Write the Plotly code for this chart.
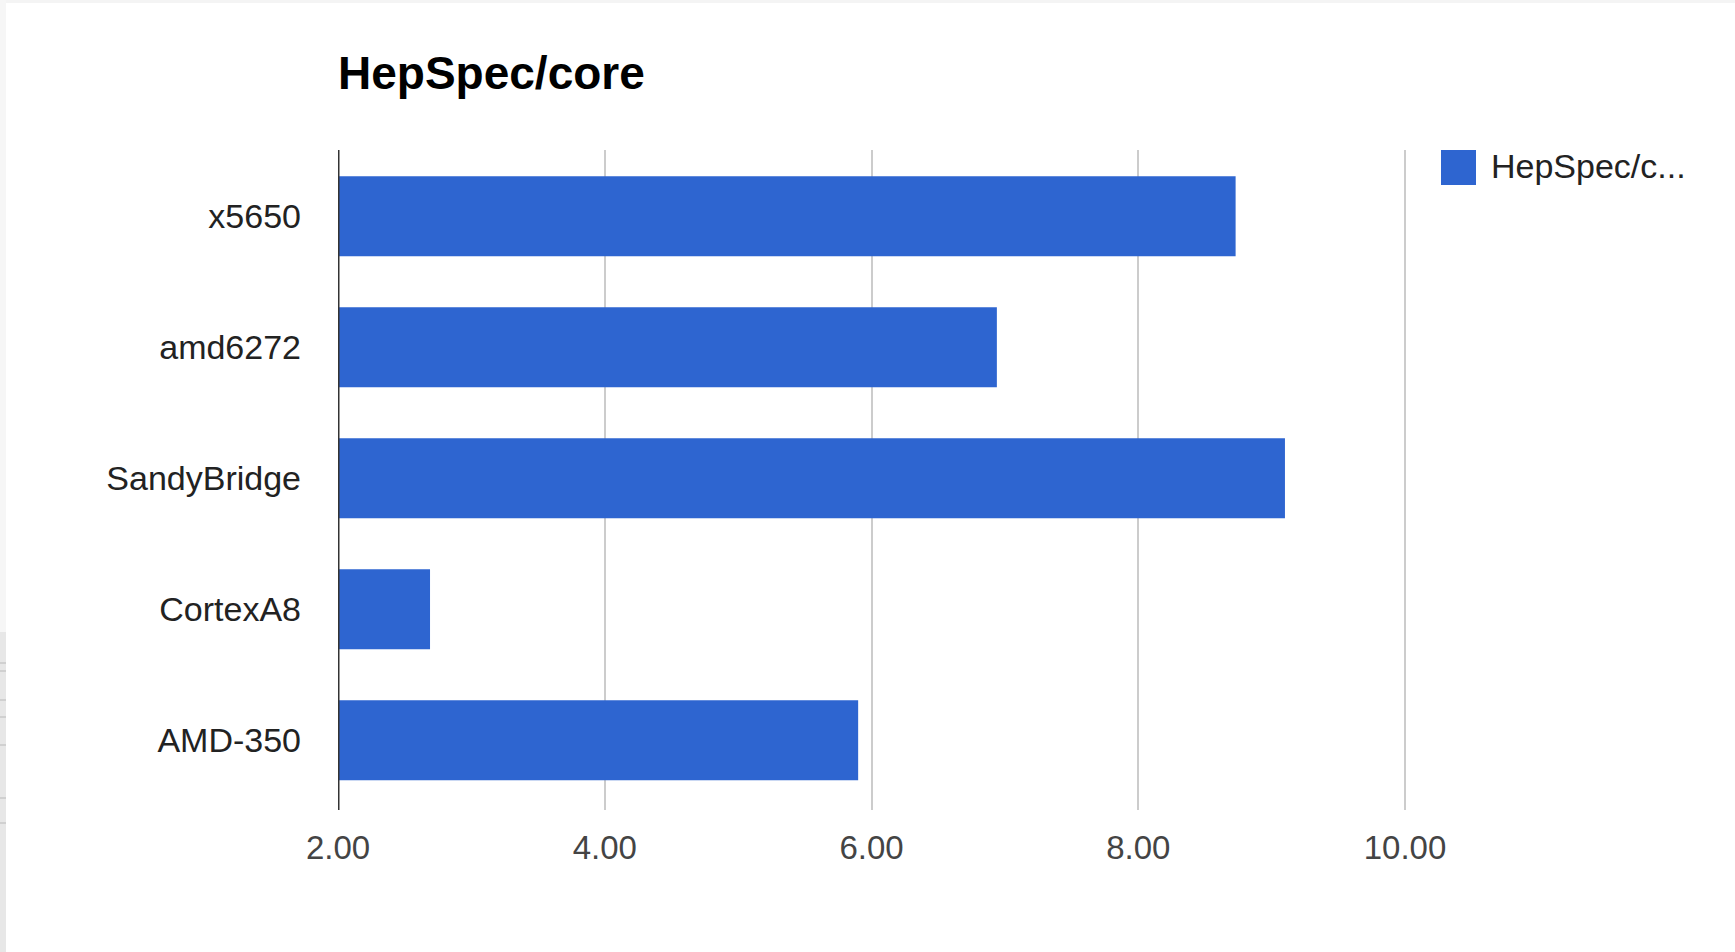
import plotly.graph_objects as go

# ---- data ----
categories = ["x5650", "amd6272", "SandyBridge", "CortexA8", "AMD-350"]
hepspec_per_core = [8.73, 6.94, 9.10, 2.69, 5.90]
x_tick_values = [2, 4, 6, 8, 10]
x_tick_labels = ["2.00", "4.00", "6.00", "8.00", "10.00"]
series_name = "HepSpec/core"
legend_label = "HepSpec/c..."
title_text = "HepSpec/core"

# ---- layout geometry (pixels) ----
W, H = 1735, 952
L, R, T, B = 338, 322, 150, 142
PW, PH = W - L - R, H - T - B

def px(x):
    return (x - L) / PW

def py(y):
    return (H - B - y) / PH

BAR = "#2e65d0"
FONT = "Liberation Sans, Arial, sans-serif"

fig = go.Figure()
fig.add_trace(go.Bar(
    y=categories,
    x=hepspec_per_core,
    orientation="h",
    name=series_name,
    marker=dict(color=BAR, line=dict(width=0)),
    width=0.61,
    showlegend=False,
))

shapes = []
# vertical axis line at x = 2
shapes.append(dict(type="line", xref="x", yref="paper", x0=2, x1=2, y0=0, y1=1,
                   line=dict(color="#333333", width=3), layer="above"))
# legend swatch
shapes.append(dict(type="rect", xref="paper", yref="paper",
                   x0=px(1441), x1=px(1476), y0=py(185), y1=py(150),
                   fillcolor=BAR, line=dict(width=0)))
# screenshot edge artifacts
shapes.append(dict(type="rect", xref="paper", yref="paper",
                   x0=px(0), x1=px(W), y0=py(3), y1=py(0),
                   fillcolor="#f4f4f4", line=dict(width=0)))
shapes.append(dict(type="rect", xref="paper", yref="paper",
                   x0=px(0), x1=px(6), y0=py(H), y1=py(0),
                   fillcolor="#f6f6f6", line=dict(width=0)))
shapes.append(dict(type="rect", xref="paper", yref="paper",
                   x0=px(0), x1=px(6), y0=py(H), y1=py(632),
                   fillcolor="#e7e7e7", line=dict(width=0)))
for yy in [663, 671, 700, 717, 745, 798, 823]:
    shapes.append(dict(type="line", xref="paper", yref="paper",
                       x0=px(0), x1=px(6), y0=py(yy), y1=py(yy),
                       line=dict(color="#c8c8c8", width=1.5)))

fig.update_layout(
    width=W, height=H,
    margin=dict(l=L, r=R, t=T, b=B, pad=0),
    paper_bgcolor="white",
    plot_bgcolor="white",
    showlegend=False,
    title=dict(text="<b>" + title_text + "</b>", xref="container", yref="container",
               x=338 / W, xanchor="left", y=1 - 73 / H, yanchor="middle",
               font=dict(family=FONT, size=46, color="#000000")),
    xaxis=dict(
        range=[2, 10.06],
        tickvals=x_tick_values,
        ticktext=x_tick_labels,
        showgrid=True, gridcolor="#cccccc", gridwidth=2,
        zeroline=False, showline=False, ticks="",
        tickfont=dict(family=FONT, size=33, color="#444444"),
        ticklabelstandoff=15,
    ),
    yaxis=dict(
        type="category",
        categoryorder="array", categoryarray=categories,
        range=[4.532, -0.506],
        showgrid=False, zeroline=False, showline=False, ticks="",
        tickfont=dict(family=FONT, size=34, color="#222222"),
        ticklabelstandoff=36,
    ),
    shapes=shapes,
    annotations=[dict(text=legend_label, xref="paper", yref="paper",
                      x=px(1489), y=py(166), xanchor="left", yanchor="middle",
                      showarrow=False,
                      font=dict(family=FONT, size=34, color="#222222"))],
)

fig.write_html("out.html")
